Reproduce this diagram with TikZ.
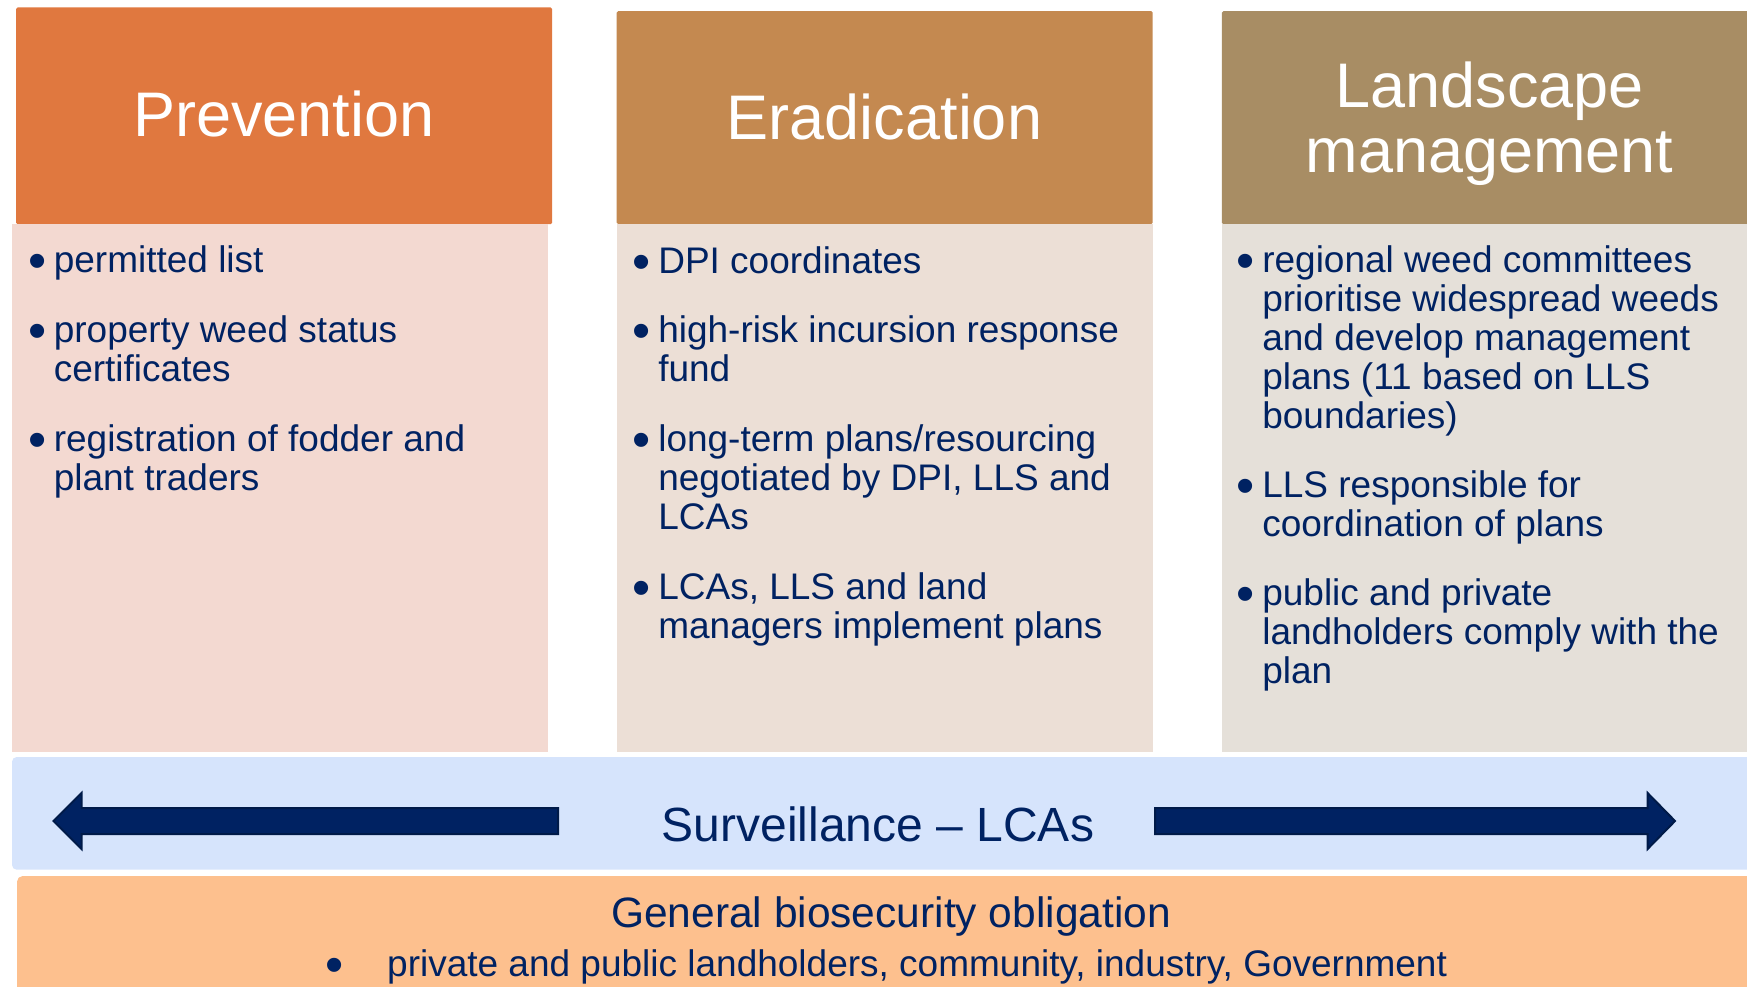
\documentclass[tikz,border=0pt]{standalone}
\usepackage{fontspec}
\setmainfont{Liberation Sans}
\usetikzlibrary{positioning}
\definecolor{navy}{RGB}{0,34,98}
\definecolor{navyedge}{RGB}{0,26,72}
\definecolor{prevhead}{RGB}{224,120,63}
\definecolor{eradhead}{RGB}{196,137,80}
\definecolor{landhead}{RGB}{168,141,100}
\definecolor{prevbody}{RGB}{243,217,209}
\definecolor{eradbody}{RGB}{236,223,214}
\definecolor{landbody}{RGB}{229,224,217}
\definecolor{survband}{RGB}{214,228,252}
\definecolor{gbsoband}{RGB}{253,192,142}
\newcommand{\bigbul}{\raisebox{-6pt}{\scalebox{1.4}{\textbullet}}}
\newcommand{\bpt}[1]{\makebox[25.6pt][l]{\bigbul}\begin{tabular}[t]{@{}l@{}}#1\end{tabular}}
\tikzset{
  headbox/.style={anchor=north west, inner sep=0pt, minimum width=536pt, minimum height=213pt, rounded corners=1.5pt},
  bodybox/.style={anchor=north west, inner sep=0pt, minimum width=536pt, minimum height=528pt},
  title/.style={anchor=base, inner sep=0pt, text=white, font=\fontsize{63}{65.4}\selectfont},
  listitem/.style={anchor=base west, inner sep=0pt, text=navy, font=\fontsize{37}{39}\selectfont},
  fatarrow/.style={fill=navy, draw=navyedge, line width=2pt, line join=miter},
}
\begin{document}
\begin{tikzpicture}[x=1pt,y=-1pt]
\useasboundingbox (0,0) rectangle (1747,987);
\clip (0,0) rectangle (1747,987);

% column headers
\node[headbox, fill=prevhead, minimum height=216.7pt] (hPrev) at (16,7.3) {};
\node[headbox, fill=eradhead] (hErad) at (616.5,11) {};
\node[headbox, fill=landhead] (hLand) at (1221.6,11) {};
\node[title] (tPrev) at (284,137) {Prevention};
\node[title] (tErad) at (884.5,140) {Eradication};
\node[title] (tLand) at (1489.6,107.3) {\begin{tabular}[t]{@{}c@{}}Landscape\\management\end{tabular}};

% column bodies
\node[bodybox, fill=prevbody] (bPrev) at (12,224) {};
\node[bodybox, fill=eradbody] (bErad) at (616.5,224) {};
\node[bodybox, fill=landbody] (bLand) at (1221.6,224) {};

\node[listitem] (p1) at (28,272) {\bpt{permitted list}};
\node[listitem] (p2) at (28,342) {\bpt{property weed status\\certificates}};
\node[listitem] (p3) at (28,451) {\bpt{registration of fodder and\\plant traders}};

\node[listitem] (e1) at (632.5,273) {\bpt{DPI coordinates}};
\node[listitem] (e2) at (632.5,342) {\bpt{high-risk incursion response\\fund}};
\node[listitem] (e3) at (632.5,451) {\bpt{long-term plans/resourcing\\negotiated by DPI, LLS and\\LCAs}};
\node[listitem] (e4) at (632.5,599.5) {\bpt{LCAs, LLS and land\\managers implement plans}};

\node[listitem] (l1) at (1236.5,272) {\bpt{regional weed committees\\prioritise widespread weeds\\and develop management\\plans (11 based on LLS\\boundaries)}};
\node[listitem] (l2) at (1236.5,497) {\bpt{LLS responsible for\\coordination of plans}};
\node[listitem] (l3) at (1236.5,605) {\bpt{public and private\\landholders comply with the\\plan}};

% surveillance band
\node[anchor=north west, inner sep=0pt, minimum width=1760pt, minimum height=112.3pt, fill=survband, rounded corners=4pt] (surv) at (12,757) {};
\node[anchor=base, inner sep=0pt, text=navy, font=\fontsize{48}{50}\selectfont] (survText) at (878,841) {Surveillance -- LCAs};
\draw[fatarrow] (558,808) -- (81.5,808) -- (81.5,793) -- (53.5,821) -- (81.5,849) -- (81.5,834) -- (558,834) -- cycle;
\draw[fatarrow] (1155,808) -- (1647.6,808) -- (1647.6,793) -- (1675,821) -- (1647.6,849) -- (1647.6,834) -- (1155,834) -- cycle;

% general obligation band
\node[anchor=north west, inner sep=0pt, minimum width=1760pt, minimum height=140pt, fill=gbsoband, rounded corners=5pt] (gbo) at (17,876) {};
\node[anchor=base, inner sep=0pt, text=navy, font=\fontsize{42.5}{45}\selectfont] (gboTitle) at (891,927) {General biosecurity obligation};
\node[anchor=base west, inner sep=0pt, text=navy, font=\fontsize{37}{39}\selectfont] (gboList) at (325,976.7) {\makebox[62pt][l]{\bigbul}private and public landholders, community, industry, Government};
\end{tikzpicture}
\end{document}
